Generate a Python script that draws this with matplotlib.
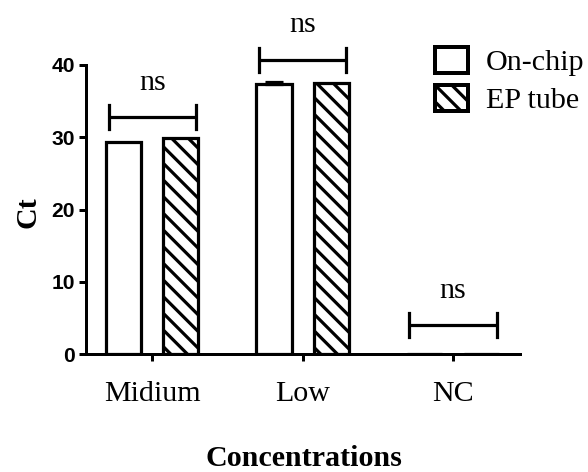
import numpy as np
import matplotlib
matplotlib.use("Agg")
import matplotlib.pyplot as plt

# ---- data ----
categories = ["Midium", "Low", "NC"]
onchip = [29.4, 37.4, 0.0]
ep_tube = [29.9, 37.5, 0.0]
onchip_err = [0.0, 0.3, 0.0]
ep_err = [0.0, 0.0, 0.0]
sig_labels = ["ns", "ns", "ns"]
bracket_y = [32.8, 40.7, 4.0]
yticks = [0, 10, 20, 30, 40]
series_names = ["On-chip", "EP tube"]

DPI = 100
W, H = 588, 472


def P(px):
    return px * 72.0 / DPI


plt.rcParams["hatch.linewidth"] = P(3.2)
plt.rcParams["hatch.color"] = "black"

serif = ["Liberation Serif", "DejaVu Serif"]
sans = ["Liberation Sans", "DejaVu Sans"]

fig = plt.figure(figsize=(W / DPI, H / DPI), dpi=DPI)
ax = fig.add_axes([86 / W, 1 - 354 / H, (520 - 86) / W, (354 - 65) / H])

x = np.arange(len(categories))
off = 0.19
bw = 0.235
lw = P(3.2)

ax.bar(x - off, onchip, bw, facecolor="white", edgecolor="black", linewidth=lw,
       label=series_names[0], zorder=2)
ax.bar(x + off, ep_tube, bw, facecolor="white", edgecolor="black", linewidth=lw,
       hatch="\\\\", label=series_names[1], zorder=2)

for i in range(len(categories)):
    if onchip_err[i] > 0:
        ax.errorbar(x[i] - off, onchip[i], yerr=[[0], [onchip_err[i]]], fmt="none",
                    ecolor="black", elinewidth=lw, capsize=P(9), capthick=lw, zorder=3)
    if ep_err[i] > 0:
        ax.errorbar(x[i] + off, ep_tube[i], yerr=[[0], [ep_err[i]]], fmt="none",
                    ecolor="black", elinewidth=lw, capsize=P(9), capthick=lw, zorder=3)

# significance brackets
half = 0.29
tick_h = 1.65
for i, (lab, by) in enumerate(zip(sig_labels, bracket_y)):
    x0, x1 = x[i] - half, x[i] + half
    ax.plot([x0, x1], [by, by], color="black", lw=lw, clip_on=False, solid_capstyle="butt")
    ax.plot([x0, x0], [by - tick_h, by + tick_h], color="black", lw=lw, clip_on=False)
    ax.plot([x1, x1], [by - tick_h, by + tick_h], color="black", lw=lw, clip_on=False)
    ax.text(x[i], by + 3.8, lab, ha="center", va="baseline", family=serif,
            fontsize=P(30), clip_on=False)

ax.set_xlim(-0.44, 2.445)
ax.set_ylim(0, 40)
ax.set_yticks(yticks)
ax.set_xticks(x)
ax.set_xticklabels(categories, family=serif, fontsize=P(30))
ax.set_yticklabels([str(t) for t in yticks], family=sans, fontweight="bold", fontsize=P(21))

for s in ["top", "right"]:
    ax.spines[s].set_visible(False)
for s in ["left", "bottom"]:
    ax.spines[s].set_linewidth(P(3))
ax.tick_params(axis="both", direction="out", length=P(7), width=P(3))
ax.tick_params(axis="y", pad=P(4))
ax.tick_params(axis="x", pad=P(20))

fig.text(28 / W, 1 - 212 / H, "Ct", rotation=90, ha="center", va="center",
         family=serif, fontweight="bold", fontsize=P(30))
fig.text(304 / W, 1 - 466 / H, "Concentrations", ha="center", va="baseline",
         family=serif, fontweight="bold", fontsize=P(30))

leg = ax.legend(loc="upper left", bbox_to_anchor=(435 / W, 1 - 47 / H),
                bbox_transform=fig.transFigure, frameon=False, borderpad=0,
                borderaxespad=0, handlelength=1.1, handleheight=0.95,
                handletextpad=0.6, labelspacing=0.3,
                prop={"family": serif, "size": P(30)})
for h in leg.legend_handles:
    h.set_linewidth(P(4))

fig.savefig("out.png", dpi=DPI)
